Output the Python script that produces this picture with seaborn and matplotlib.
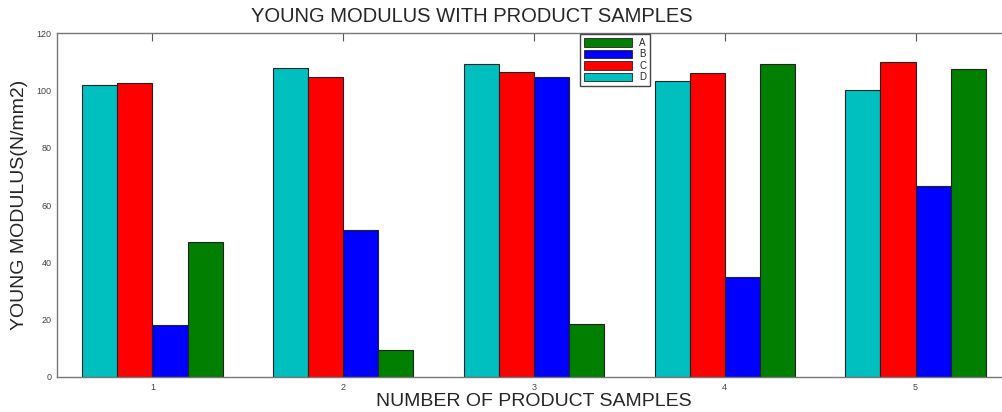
import pandas as pd
import matplotlib
matplotlib.use("Agg")
import matplotlib.pyplot as plt
import seaborn as sns
from matplotlib.patches import Patch

# data
samples = ["1", "2", "3", "4", "5"]
series_a = [47.1, 9.3, 18.5, 109.3, 107.5]
series_b = [18.0, 51.3, 104.6, 34.8, 66.7]
series_c = [102.5, 104.8, 106.3, 106.1, 109.9]
series_d = [101.7, 107.8, 109.3, 103.1, 100.1]
bar_order = ["D", "C", "B", "A"]
legend_order = ["A", "B", "C", "D"]
colors = {"A": "#007f00", "B": "#0000ff", "C": "#ff0000", "D": "#00bfbf"}

values = {"A": series_a, "B": series_b, "C": series_c, "D": series_d}
rows = []
for name, vals in values.items():
    for s, v in zip(samples, vals):
        rows.append({"sample": s, "series": name, "value": v})
df = pd.DataFrame(rows)

sns.set_style("white")
plt.rcParams["font.family"] = ["Liberation Sans", "DejaVu Sans"]

fig = plt.figure(figsize=(10.02, 4.12), dpi=100)
ax = fig.add_axes([57 / 1002, 35 / 412, (1011 - 57) / 1002, 344 / 412])

sns.barplot(data=df, x="sample", y="value", hue="series", order=samples,
            hue_order=bar_order, palette=colors, width=0.736,
            edgecolor="#222222", linewidth=0.8, saturation=1, ax=ax)

ax.set_xlim(-0.5, 4.5)
ax.set_ylim(0, 120)
ax.set_yticks(range(0, 121, 20))
ax.set_xlabel("NUMBER OF PRODUCT SAMPLES", fontsize=14, labelpad=1)
ax.set_ylabel("YOUNG MODULUS(N/mm2)", fontsize=14, labelpad=6)
ax.tick_params(direction="in", length=6, width=0.8, color="#555555",
               labelsize=6.5, labelcolor="#444444", top=True, right=True,
               pad=4)
for sp in ax.spines.values():
    sp.set_color("#777777")
    sp.set_linewidth(1.0)

fig.text(472 / 1002, 1 - 16 / 412, "YOUNG MODULUS WITH PRODUCT SAMPLES",
         fontsize=14.5, ha="center", va="center")

handles = [Patch(facecolor=colors[k], edgecolor="#222222", linewidth=0.6)
           for k in legend_order]
ax.legend(handles, legend_order, loc="upper left",
          bbox_to_anchor=((580 - 57) / 954, 1 - 1 / 344), fontsize=7,
          handlelength=4.9, handleheight=0.95, labelspacing=0.15,
          handletextpad=0.8, borderpad=0.4, borderaxespad=0, frameon=True,
          fancybox=False, edgecolor="#444444", framealpha=1)

fig.savefig("out.png", dpi=100)
